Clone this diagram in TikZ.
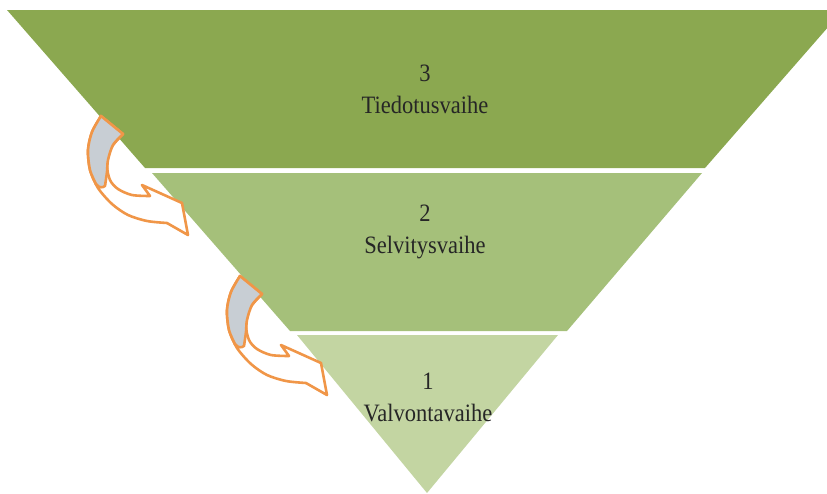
\documentclass[tikz,border=0pt]{standalone}
\usepackage{fontspec}
\setmainfont{Liberation Serif}[FakeStretch=0.9]
\definecolor{topgreen}{RGB}{139,168,80}
\definecolor{midgreen}{RGB}{165,192,122}
\definecolor{lowgreen}{RGB}{195,213,162}
\definecolor{arroworange}{RGB}{240,150,72}
\definecolor{backgray}{RGB}{200,206,212}

\begin{document}
\begin{tikzpicture}[x=1pt, y=-1pt,
  stage/.style={align=center, font=\fontsize{25}{32}\selectfont, text=black!85},
  arrowbody/.style={fill=white, draw=arroworange, line width=2.6pt, line join=round},
  arrowback/.style={fill=backgray, draw=arroworange, line width=2.6pt, line join=round},
  curvedarrow/.pic={
    \path[arrowbody] plot[smooth] coordinates {(101,116) (92,132) (88,150) (90,170) (98,188) (112,204) (128,215) (147,221) (167,223)}
      -- (188,235) -- (182,203) -- (142,185) -- (150,196)
      -- plot[smooth] coordinates {(150,196) (132,195) (118,189) (110,180) (107,165) (111,148) (123,134)} -- cycle;
    \path[arrowback] plot[smooth] coordinates {(101,116) (92,132) (88,150) (90,170) (96,184)}
      .. controls (99,188) and (102,188) .. (105,186)
      -- plot[smooth] coordinates {(105,186) (107,172) (108,160) (113,145) (123,134)} -- cycle;
  }
]
  \useasboundingbox (0,0) rectangle (827,493);
  \clip (0,0) rectangle (827,493);

  % pyramid bands
  \fill[topgreen] (7,10) -- (843,10) -- (705,168) -- (145,168) -- cycle;
  \fill[midgreen] (152,173) -- (702,173) -- (567,331) -- (290,331) -- cycle;
  \fill[lowgreen] (297,335) -- (558,335) -- (427,493) -- cycle;

  \node[stage] (top) at (425,89) {3\\Tiedotusvaihe};
  \node[stage] (mid) at (425,232) {2\\Selvitysvaihe};
  \node[stage] (low) at (428,397) {1\\Valvontavaihe};

  % arrows between bands
  \pic at (0,0) {curvedarrow};
  \pic at (139,160) {curvedarrow};
\end{tikzpicture}
\end{document}
